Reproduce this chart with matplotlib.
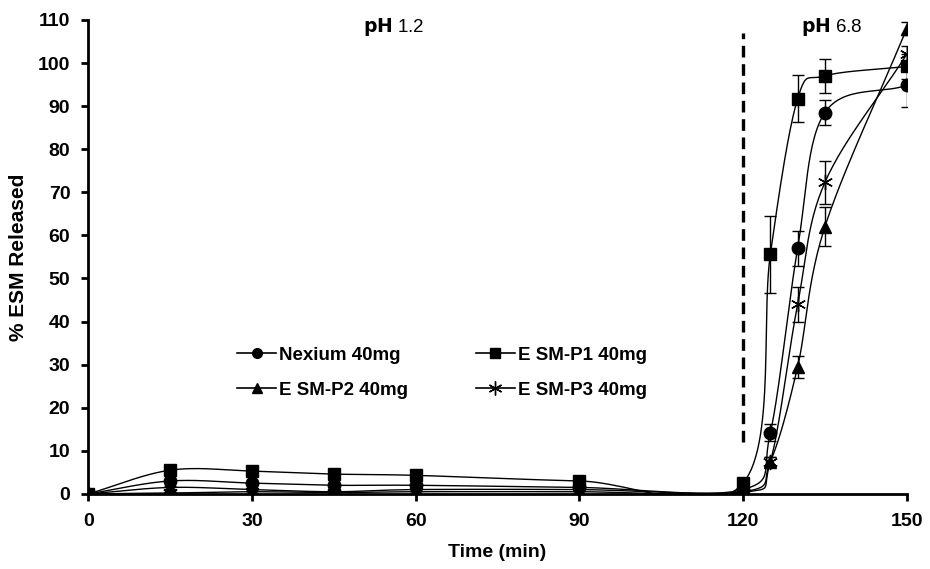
import numpy as np
import matplotlib
matplotlib.use("Agg")
import matplotlib.pyplot as plt

plt.rcParams['font.family'] = ['Liberation Sans', 'DejaVu Sans']

time = [0, 15, 30, 45, 60, 90, 120, 125, 130, 135, 150]

nexium = [0, 3.0, 2.5, 2.0, 2.0, 1.5, 1.0, 14.2, 57.0, 88.5, 94.8]
nexium_err = [0, 0.5, 0.5, 0.5, 0.5, 0.5, 0.5, 2.0, 4.0, 3.0, 5.0]
p1 = [0, 5.5, 5.3, 4.6, 4.3, 3.0, 2.5, 55.6, 91.7, 97.0, 99.2]
p1_err = [0, 0.5, 0.5, 0.5, 0.5, 0.5, 0.5, 9.0, 5.5, 4.0, 3.0]
p2 = [0, 1.5, 1.0, 0.5, 1.0, 1.0, 0.5, 7.5, 29.5, 62.0, 108.0]
p2_err = [0, 0.3, 0.3, 0.3, 0.3, 0.3, 0.3, 1.0, 2.5, 4.5, 1.5]
p3 = [0, 0.2, 0.5, 0.3, 0.5, 0.5, 0.3, 7.5, 44.0, 72.3, 102.0]
p3_err = [0, 0.3, 0.3, 0.3, 0.3, 0.3, 0.3, 1.0, 4.0, 5.0, 2.0]

labels = ['Nexium 40mg', 'E SM-P1 40mg', 'E SM-P2 40mg', 'E SM-P3 40mg']
markers = ['o', 's', '^', (6, 2, 0)]


def smooth(x, y, n=30):
    # catmull-rom style smoothing, like excel "smoothed line"
    x = np.asarray(x, float)
    y = np.asarray(y, float)
    px = np.concatenate([[2 * x[0] - x[1]], x, [2 * x[-1] - x[-2]]])
    py = np.concatenate([[2 * y[0] - y[1]], y, [2 * y[-1] - y[-2]]])
    xs, ys = [], []
    t = np.linspace(0, 1, n)
    for i in range(1, len(px) - 2):
        for p, out in ((px, xs), (py, ys)):
            p0, p1_, p2_, p3_ = p[i - 1], p[i], p[i + 1], p[i + 2]
            c = 0.5 * ((2 * p1_) + (-p0 + p2_) * t
                       + (2 * p0 - 5 * p1_ + 4 * p2_ - p3_) * t ** 2
                       + (-p0 + 3 * p1_ - 3 * p2_ + p3_) * t ** 3)
            out.extend(c)
    return np.array(xs), np.array(ys)


fig = plt.figure(figsize=(9.3, 5.69), dpi=100)
ax = fig.add_axes([0.095, 0.132, 0.88, 0.833])

series = [(nexium, nexium_err), (p1, p1_err), (p2, p2_err), (p3, p3_err)]
handles = []
for (vals, err), lab, m in zip(series, labels, markers):
    sx, sy = smooth(time, vals)
    ax.plot(sx, sy, color='black', lw=1)
    ax.errorbar(time, vals, yerr=err, fmt='none', ecolor='black', elinewidth=1, capsize=4)
    star = m == (6, 2, 0)
    ax.plot(time, vals, linestyle='none', marker=m, color='black', ms=11 if star else 9, mew=1)
    h, = ax.plot([], [], color='black', lw=1.2, marker=m, ms=10 if star else 7, label=lab)
    handles.append(h)

ax.plot([120, 120], [12, 107], color='black', lw=2.4, ls=(0, (3.5, 2)))

ax.text(50.4, 108.3, r'$\bf{pH}$ 1.2', fontsize=13.5, ha='left', va='center')
ax.text(130.7, 108.3, r'$\bf{pH}$ 6.8', fontsize=13.5, ha='left', va='center')

ax.set_xlim(0, 150)
ax.set_ylim(0, 110)
ax.set_xticks(range(0, 151, 30))
ax.set_yticks(range(0, 111, 10))
for s in ['top', 'right']:
    ax.spines[s].set_visible(False)
for s in ['left', 'bottom']:
    ax.spines[s].set_linewidth(2)
ax.tick_params(direction='out', width=2, length=5, labelsize=14)
ax.tick_params(axis='y', pad=8)
ax.tick_params(axis='x', pad=9)
for lab in ax.get_xticklabels() + ax.get_yticklabels():
    lab.set_fontweight('bold')
ax.set_xlabel('Time (min)', fontsize=14, fontweight='bold', labelpad=10)
ax.set_ylabel('% ESM Released', fontsize=15, fontweight='bold', labelpad=7)

# row-wise order: Nexium, P1 / P2, P3
order = [0, 2, 1, 3]
ax.legend([handles[i] for i in order], [labels[i] for i in order],
          ncol=2, loc='center', bbox_to_anchor=(0.432, 0.256), frameon=False,
          handlelength=2.1, columnspacing=3.6, labelspacing=0.95,
          prop={'weight': 'bold', 'size': 13.5}, handletextpad=0.15)

fig.savefig('out.png', dpi=100)
